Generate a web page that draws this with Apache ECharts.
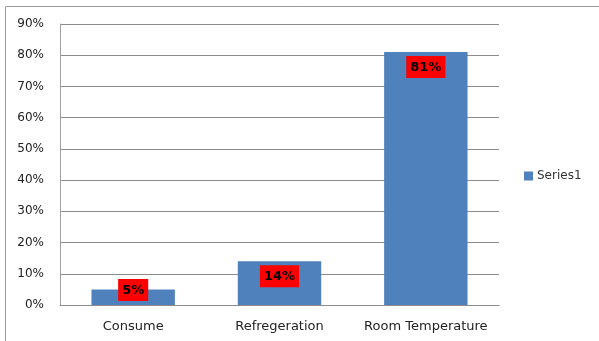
<!DOCTYPE html>
<html>
<head>
<meta charset="utf-8">
<script src="https://cdn.jsdelivr.net/npm/echarts@6/dist/echarts.min.js"></script>
<style>
  html, body { margin: 0; padding: 0; background: #fff; }
  #chart { width: 599px; height: 341px; }
</style>
</head>
<body>
<div id="chart"></div>
<script>
// Share of samples by storage condition
const categories = ['Consume', 'Refregeration', 'Room Temperature'];
const seriesName = 'Series1';
const values = [5, 14, 81];
const yTicks = { min: 0, max: 90, interval: 10 };

const FONT = 'DejaVu Sans, Verdana, sans-serif';

const chart = echarts.init(document.getElementById('chart'), null, { renderer: 'canvas' });

const labelBase = {
  show: true,
  position: 'insideTop',
  distance: 4,
  formatter: p => p.value + '%',
  color: '#000',
  fontFamily: FONT,
  fontWeight: 'bold',
  fontSize: 13,
  backgroundColor: '#ff0000',
  padding: [5, 4, 4, 4]
};

// Short bars cannot hold the label at their top, so it sits on the baseline instead
const barData = values.map(v => v < 10
  ? { value: v, label: { position: 'insideBottom', distance: 4 } }
  : { value: v });

chart.setOption({
  animation: false,
  graphic: [{
    type: 'rect',
    shape: { x: 5.5, y: 6.5, width: 700, height: 400 },
    style: { fill: 'none', stroke: '#9a9a9a', lineWidth: 1 },
    silent: true
  }],
  grid: { left: 60, right: 100, top: 24, bottom: 36 },
  legend: {
    data: [seriesName],
    orient: 'vertical',
    left: 524,
    top: 170,
    padding: 0,
    itemWidth: 9,
    itemHeight: 9,
    itemGap: 4,
    textStyle: { fontFamily: FONT, fontSize: 12, color: '#333', padding: [0, 0, 0, -1] },
    icon: 'rect'
  },
  xAxis: {
    type: 'category',
    data: categories,
    axisLine: { lineStyle: { color: '#8c8c8c' } },
    axisTick: { show: false },
    axisLabel: { interval: 0, fontFamily: FONT, fontSize: 13, color: '#222', margin: 15 }
  },
  yAxis: {
    type: 'value',
    min: yTicks.min,
    max: yTicks.max,
    interval: yTicks.interval,
    axisLine: { show: true, lineStyle: { color: '#a0a0a0' } },
    axisTick: { show: false },
    axisLabel: {
      formatter: v => v + '%',
      fontFamily: FONT,
      fontSize: 12,
      color: '#222',
      margin: 16
    },
    splitLine: { lineStyle: { color: '#8c8c8c', width: 1 } }
  },
  series: [{
    name: seriesName,
    type: 'bar',
    data: barData,
    barWidth: '57%',
    itemStyle: { color: '#4f81bd' },
    label: labelBase
  }]
});
</script>
</body>
</html>
